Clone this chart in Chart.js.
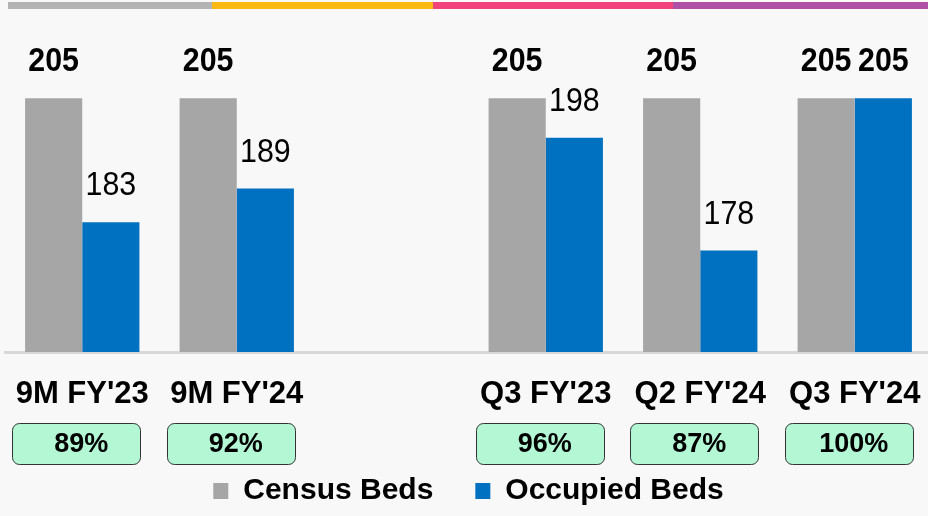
<!DOCTYPE html>
<html><head><meta charset="utf-8">
<script src="https://cdn.jsdelivr.net/npm/chart.js@4.4.1/dist/chart.umd.min.js"></script>
<style>
html,body{margin:0;padding:0;background:#f8f8f8;overflow:hidden;width:928px;height:516px}
#wrap{position:absolute;left:0;top:0;width:936px;height:516px}
</style></head><body>
<div id="wrap"><canvas id="c"></canvas></div>
<script>
const categories = ["9M FY'23", "9M FY'24", "", "Q3 FY'23", "Q2 FY'24", "Q3 FY'24"];
const censusBeds = [205, 205, null, 205, 205, 205];
const occupiedBeds = [183, 189, null, 198, 178, 205];
const occupancyLabels = ["89%", "92%", "", "96%", "87%", "100%"];
const seriesNames = ["Census Beds", "Occupied Beds"];

const ARIAL = '"Liberation Sans",Arial,sans-serif';

const stripPlugin = {
  id: 'strip',
  beforeDraw(chart) {
    const ctx = chart.ctx;
    ctx.save();
    ctx.fillStyle = '#f8f8f8';
    ctx.fillRect(0, 0, chart.width, chart.height);
    const segs = [[8, 212, '#b3b3b3'], [212, 433, '#fdb913'], [433, 673, '#f0437a'], [673, 936, '#b04fa6']];
    segs.forEach(s => { ctx.fillStyle = s[2]; ctx.fillRect(s[0], 2, s[1] - s[0], 7); });
    ctx.restore();
  }
};

const valueLabels = {
  id: 'valueLabels',
  afterDatasetsDraw(chart) {
    const ctx = chart.ctx;
    chart.data.datasets.forEach((ds, di) => {
      const meta = chart.getDatasetMeta(di);
      meta.data.forEach((el, i) => {
        const v = ds.data[i];
        if (v == null) return;
        const bold = di === 0 || v === censusBeds[i];
        ctx.save();
        ctx.translate(el.x, el.y - 36);
        ctx.scale(0.92, 1);
        ctx.textAlign = 'center';
        ctx.textBaseline = 'middle';
        ctx.fillStyle = '#000';
        ctx.font = (bold ? 'bold ' : '') + '33px ' + ARIAL;
        ctx.fillText(String(v), 0, 0);
        ctx.restore();
      });
    });
  }
};

const boxPlugin = {
  id: 'occBoxes',
  afterDraw(chart) {
    const xs = chart.scales.x;
    const ctx = chart.ctx;
    ctx.save();
    const top = chart.chartArea.bottom + 71;
    occupancyLabels.forEach((t, i) => {
      if (!t) return;
      const c = xs.getPixelForValue(i);
      const w = 128, h = 41;
      ctx.beginPath();
      ctx.roundRect(Math.round(c - 6 - w / 2) + 0.5, top + 0.5, w, h, 7);
      ctx.fillStyle = '#b3f7d5';
      ctx.fill();
      ctx.lineWidth = 1;
      ctx.strokeStyle = '#333';
      ctx.stroke();
      ctx.fillStyle = '#000';
      ctx.font = 'bold 27px ' + ARIAL;
      ctx.textAlign = 'center';
      ctx.textBaseline = 'middle';
      ctx.fillText(t, c - 1, top + h / 2 + 1);
    });
    ctx.restore();
  }
};

new Chart(document.getElementById('c'), {
  type: 'bar',
  data: {
    labels: categories,
    datasets: [
      { label: seriesNames[0], data: censusBeds, backgroundColor: '#a6a6a6', borderWidth: 0 },
      { label: seriesNames[1], data: occupiedBeds, backgroundColor: '#0070c0', borderWidth: 0 }
    ]
  },
  options: {
    responsive: true,
    maintainAspectRatio: false,
    animation: false,
    events: [],
    layout: { padding: { left: 5, right: 4, top: 70, bottom: 0 } },
    datasets: { bar: { barPercentage: 1, categoryPercentage: 0.74 } },
    scales: {
      x: {
        grid: { display: false, drawTicks: false },
        border: { display: true, color: '#d9d9d9', width: 3 },
        ticks: { color: '#000', font: { family: ARIAL, size: 31, weight: 'bold' }, padding: 24, maxRotation: 0, autoSkip: false },
        afterFit(s) { s.height = 82; s.paddingLeft = 0; s.paddingRight = 0; }
      },
      y: { display: false, min: 160, max: 210 }
    },
    plugins: {
      legend: {
        position: 'bottom',
        labels: { color: '#000', font: { family: ARIAL, size: 30, weight: 'bold', lineHeight: 1 }, boxWidth: 15, boxHeight: 16, padding: 42 }
      },
      tooltip: { enabled: false }
    }
  },
  plugins: [stripPlugin, valueLabels, boxPlugin]
});
</script>
</body></html>
